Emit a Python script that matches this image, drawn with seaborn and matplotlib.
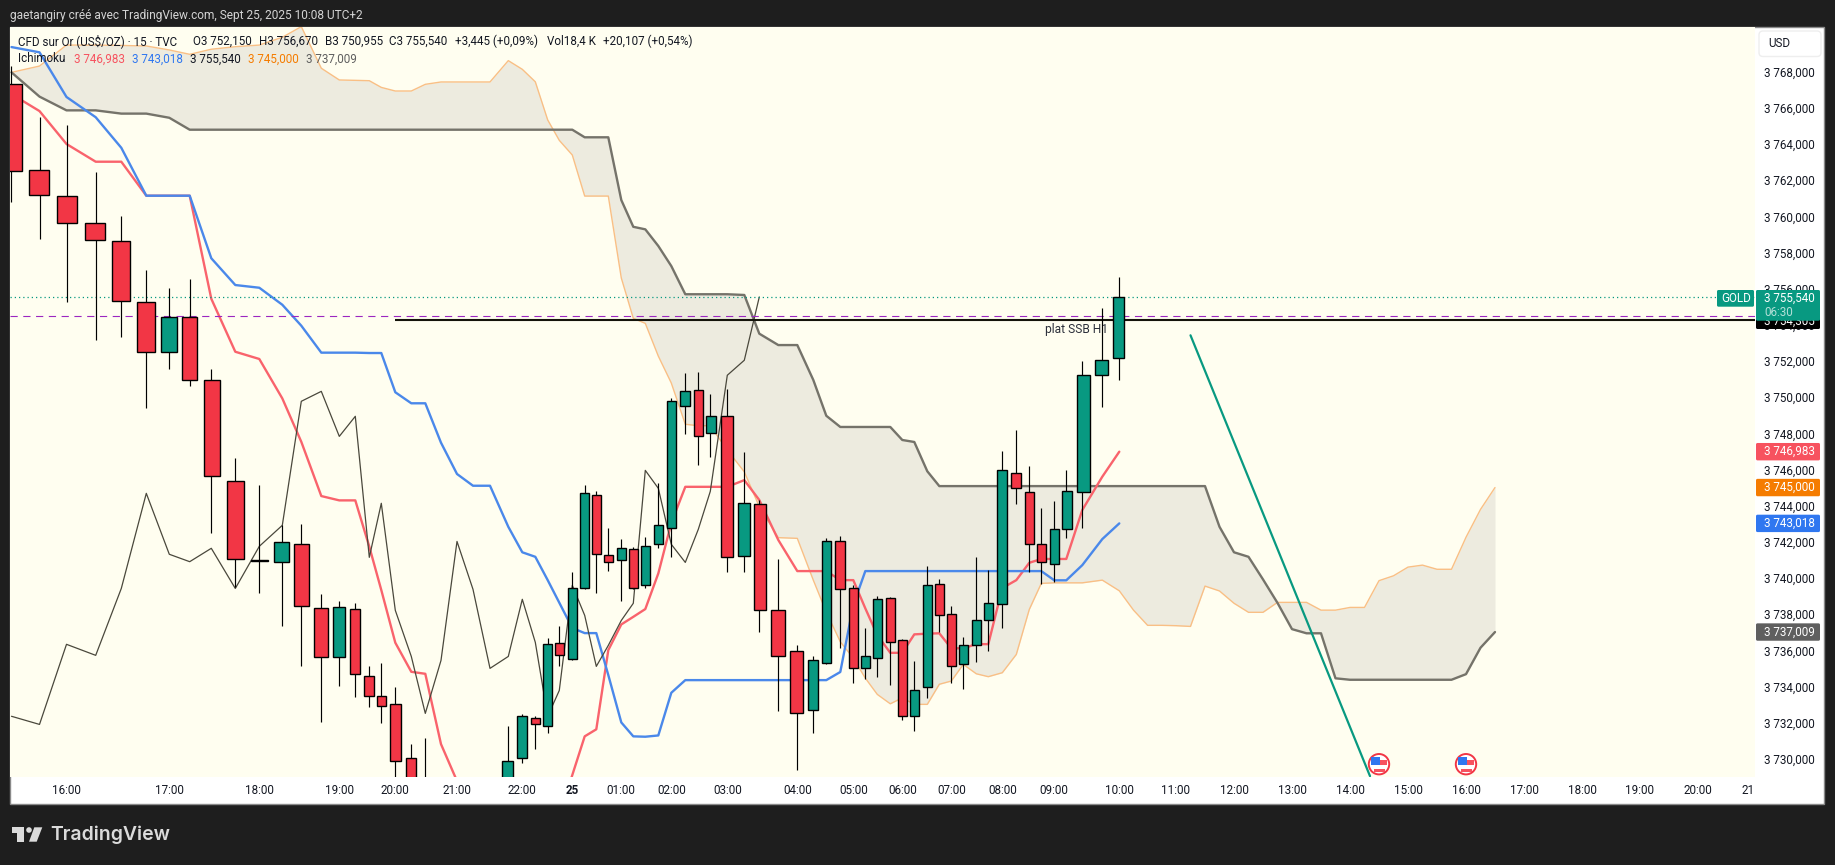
import numpy as np
import pandas as pd
import matplotlib
matplotlib.use("Agg")
import matplotlib.pyplot as plt
import seaborn as sns
from matplotlib.patches import Rectangle, Circle, Polygon, FancyBboxPatch
from matplotlib.transforms import IdentityTransform

nan = float("nan")

# ---- data (15-minute bars, prices in USD) ----
opens = [3767.30,3762.54,3761.11,3759.61,3758.62,3755.24,3752.48,3754.41,3750.93,3745.34,3740.93,3740.90,3741.86,3738.32,3735.64,3738.26,3734.56,3733.45,3733.01,3730.02,3728.55,nan,nan,nan,nan,3728.27,3730.02,3732.23,3731.79,3736.38,3735.50,3739.42,3744.57,3741.25,3740.97,3741.58,3739.59,3741.86,3742.78,3749.52,3750.38,3748.00,3748.94,3741.19,3744.07,3738.21,3735.94,3732.68,3735.28,3742.02,3739.42,3735.00,3735.55,3738.87,3736.55,3732.35,3733.95,3739.65,3737.99,3735.22,3736.27,3737.65,3738.54,3745.79,3744.73,3741.86,3740.75,3742.69,3744.73,3751.21,3752.15]
highs = [3768.31,3765.49,3765.05,3762.45,3760.02,3757.03,3756.03,3756.53,3751.55,3746.63,3745.14,3742.93,3742.98,3739.11,3738.72,3738.61,3735.13,3735.29,3733.97,3730.81,3731.14,nan,nan,nan,nan,3731.81,3732.46,3732.36,3736.68,3737.34,3740.33,3745.14,3744.81,3742.74,3742.15,3741.71,3742.26,3745.25,3749.95,3751.33,3751.39,3750.17,3750.45,3746.96,3744.31,3741.03,3736.27,3735.68,3742.19,3742.32,3739.61,3737.23,3738.98,3738.94,3736.60,3735.40,3740.64,3739.94,3738.45,3736.71,3741.16,3740.44,3747.02,3748.18,3746.19,3743.87,3744.25,3745.97,3752.00,3754.93,3756.67]
lows = [3760.81,3758.76,3755.28,3753.16,3753.34,3749.41,3751.57,3750.63,3742.50,3739.48,3739.18,3737.36,3735.13,3732.05,3734.02,3733.43,3732.88,3731.99,3728.27,3727.16,3727.20,nan,nan,nan,nan,3727.90,3729.75,3730.55,3731.44,3735.14,3735.46,3739.37,3739.18,3740.40,3738.74,3739.38,3739.46,3741.67,3741.17,3747.98,3746.26,3746.70,3740.34,3740.34,3737.02,3732.65,3729.36,3731.44,3735.24,3736.14,3734.20,3734.39,3734.54,3734.09,3732.14,3731.55,3733.37,3737.02,3734.20,3733.87,3735.37,3735.97,3737.25,3744.10,3740.34,3739.65,3739.79,3742.22,3742.78,3749.47,3750.955]
closes = [3762.49,3761.16,3759.61,3758.67,3755.30,3752.48,3754.41,3750.93,3745.62,3741.03,3740.93,3741.97,3738.43,3735.64,3738.37,3734.67,3733.45,3732.93,3729.86,3727.72,3727.70,nan,nan,nan,nan,3729.86,3732.35,3731.90,3736.33,3735.72,3739.42,3744.68,3741.31,3740.90,3741.64,3739.42,3741.75,3742.91,3749.77,3750.32,3747.83,3748.94,3741.14,3744.13,3738.21,3735.66,3732.51,3735.44,3742.02,3739.37,3735.00,3735.66,3738.82,3736.44,3732.35,3733.78,3739.59,3737.93,3735.11,3736.27,3737.65,3738.60,3745.95,3744.96,3741.86,3740.86,3742.69,3744.79,3751.21,3752.04,3755.54]

tenkan = [3766.76,3765.82,3764.00,3763.02,3763.02,3761.14,3761.14,3761.14,3755.44,3752.51,3752.11,3749.93,3747.53,3744.53,3744.29,3744.29,3741.73,3739.33,3736.42,3734.81,3734.70,3730.81,3728.77,nan,nan,nan,nan,nan,nan,3726.89,3729.10,3731.24,3731.63,3736.01,3737.43,3737.85,3738.28,3740.25,3743.04,3745.04,3745.04,3745.04,3745.04,3745.41,3744.31,3742.10,3740.38,3740.38,3740.38,3739.88,3739.88,3738.32,3736.84,3735.86,3735.86,3736.88,3736.92,3736.94,3736.11,3736.11,3736.34,3736.34,3739.44,3739.88,3740.84,3741.05,3741.05,3741.05,3743.76,3745.60,3746.983]
kijun = [3769.36,3769.07,3766.60,3765.48,3763.79,3761.14,3761.14,3761.14,3757.68,3756.20,3756.05,3755.11,3753.95,3752.46,3752.46,3752.46,3752.44,3752.44,3750.27,3749.66,3749.66,3747.48,3745.75,3745.10,3745.10,3742.83,3741.42,3741.17,3739.88,3738.63,3737.23,3736.95,3736.95,3734.63,3732.01,3731.24,3731.22,3731.29,3733.65,3734.35,3734.35,3734.35,3734.35,3734.35,3734.35,3734.35,3734.35,3734.35,3734.35,3734.80,3738.50,3740.38,3740.38,3740.38,3740.38,3740.38,3740.38,3740.38,3740.38,3740.38,3740.38,3740.38,3740.38,3740.38,3740.38,3740.38,3739.87,3739.87,3740.71,3742.15,3743.018]
span_a = [3767.96,3768.31,3769.47,3769.47,3769.45,3769.42,3769.20,3768.96,3769.24,3769.38,3769.47,3769.90,3770.49,3768.19,3767.54,3767.52,3767.50,3767.13,3766.93,3766.93,3767.30,3767.43,3767.43,3767.43,3767.43,3768.61,3768.13,3767.44,3765.33,3764.20,3763.39,3761.12,3761.12,3761.12,3756.59,3754.36,3754.08,3752.27,3750.78,3748.50,3748.42,3748.42,3747.07,3745.87,3743.94,3742.23,3742.19,3739.88,3738.11,3736.47,3735.57,3734.46,3733.56,3733.04,3733.37,3733.01,3733.01,3734.12,3734.30,3735.22,3734.70,3734.54,3734.76,3735.77,3738.26,3739.70,3739.73,3739.73,3739.73,3739.88,3739.29,3738.22,3737.38,3737.38,3737.36,3737.32,3739.55,3739.28,3738.60,3738.10,3738.10,3738.65,3738.65,3738.65,3738.22,3738.22,3738.37,3738.37,3739.85,3740.12,3740.60,3740.71,3740.48,3740.48,3742.25,3743.79,3745.00]
span_b = [3767.96,3766.62,3765.86,3765.86,3765.68,3765.68,3765.45,3764.79,3764.79,3764.79,3764.79,3764.79,3764.79,3764.79,3764.79,3764.79,3764.79,3764.79,3764.79,3764.79,3764.79,3764.79,3764.79,3764.79,3764.79,3764.79,3764.79,3764.79,3764.79,3764.79,3764.79,3764.37,3764.37,3764.37,3760.90,3759.42,3759.28,3758.36,3757.25,3755.69,3755.69,3755.69,3755.69,3755.65,3753.51,3752.88,3752.88,3750.95,3748.97,3748.35,3748.35,3748.35,3748.35,3748.35,3747.63,3747.52,3745.90,3745.08,3745.08,3745.08,3745.08,3745.08,3745.08,3745.08,3745.08,3745.08,3745.08,3745.08,3745.08,3745.08,3745.08,3745.08,3745.08,3745.08,3745.08,3745.08,3745.08,3742.83,3741.42,3741.17,3739.92,3738.62,3737.17,3736.94,3736.94,3734.45,3734.37,3734.37,3734.37,3734.37,3734.37,3734.37,3734.37,3734.37,3734.68,3736.14,3737.009]

last_close = 3755.54
purple_level = 3754.47
ssb_level = 3754.27
trend_slots = [75.0, 87.38]
trend_prices = [3753.42, 3729.04]
event_slots = [88.0, 94.0]
event_price = 3729.7

price_ticks = list(range(3730, 3770, 2))
time_tick_slots = [2,6,10,14,18,22,26,30,34,38,42,46,50,54,58,62,66,70,74,78,82,86,90,94,98,102,106,110]
time_tick_labels = ["16:00","17:00","18:00","19:00","20:00","21:00","22:00","25","01:00","02:00","03:00","04:00","05:00","06:00","07:00","08:00","09:00","10:00","11:00","12:00","13:00","14:00","15:00","16:00","17:00","18:00","19:00","20:00"]

# the chart's compressed time axis: where each bar slot falls on the canvas
scale_slots = list(range(-2, 71)) + [71,72,73,74,75,76,77,78,82,86,90,94,98,102,106,110,114,120]
scale_px = [-44,-16,11.5,39.5,66.5,95.7,121.3,146.3,169.3,189.7,211.3,235.3,259.3,282.3,301.3,321.3,339.3,355.3,369.3,381.3,395.3,411.3,425.3,441,457,473,490,508.3,522.3,535.3,547.7,559.3,572.3,584.7,596.3,608.3,621.3,633.3,645.3,658.3,671.3,685.3,698.3,710.3,727.3,744.3,759.3,778.3,797.3,813.3,826.3,840.3,853.3,865.3,877.3,890.3,902.3,914.3,927.3,939.3,951.3,963.3,976.3,988.3,1002.3,1016.3,1029.3,1041.3,1054.3,1066.3,1082.3,1102.3,1119.3,1133.5,1147.6,1161.8,1176,1190.5,1205,1219.5,1234,1292,1350,1408,1466,1524,1582,1640,1698,1756,1843]

W, H = 1835, 865
L, R, T, B = 10, 1755, 27, 776.5
BG = "#1e1e1e"
PLOT = "#fffef0"
RED = "#f23645"
GREEN = "#089981"
INK = "#131722"
FONT = ["Roboto", "DejaVu Sans"]
FS = 8.35

sns.set_theme(style="white")
plt.rcParams["font.family"] = FONT
plt.rcParams["text.parse_math"] = False

fig = plt.figure(figsize=(W / 100, H / 100), dpi=100, facecolor=BG)
ax = fig.add_axes([L / W, 1 - B / H, (R - L) / W, (B - T) / H], facecolor=PLOT)


def to_px(t):
    t = np.asarray(t, dtype=float)
    return np.interp(t.ravel(), scale_slots, scale_px).reshape(t.shape)


def to_slot(p):
    p = np.asarray(p, dtype=float)
    return np.interp(p.ravel(), scale_px, scale_slots).reshape(p.shape)


ax.set_xscale("function", functions=(to_px, to_slot))
ax.set_xlim(float(to_slot(L)), float(to_slot(R)))
ax.set_ylim(3729.02, 3770.47)

bars = np.arange(len(opens))
cloud_slots = np.arange(len(span_a))

# cloud
ax.fill_between(cloud_slots, span_a, span_b, color="#edebdf", lw=0, zorder=1)
sns.lineplot(x=cloud_slots, y=span_a, ax=ax, color="#f9bf85", lw=1.0, estimator=None, sort=False, zorder=2)
sns.lineplot(x=cloud_slots, y=span_b, ax=ax, color="#75736a", lw=1.7, estimator=None, sort=False, zorder=2)
# ichimoku lines
sns.lineplot(x=bars, y=tenkan, ax=ax, color="#f9636c", lw=1.7, estimator=None, sort=False, zorder=3)
sns.lineplot(x=bars, y=kijun, ax=ax, color="#4a88ea", lw=1.7, estimator=None, sort=False, zorder=3)
sns.lineplot(x=bars[:45], y=closes[26:], ax=ax, color="#4a483c", lw=0.9, estimator=None, sort=False, zorder=3)

# drawings sit under the candles
ax.axhline(last_close, color=GREEN, lw=0.9, ls=(0, (1, 2.4)), zorder=3.5)
ax.axhline(purple_level, color="#9c27c0", lw=0.8, ls=(0, (6.5, 5)), zorder=3.5)
ax.hlines(ssb_level, 18, 114, color="#14130a", lw=1.5, zorder=3.5)
sns.lineplot(x=trend_slots, y=trend_prices, ax=ax, color=GREEN, lw=1.6, estimator=None, sort=False, zorder=3.5)

# candles
o = np.array(opens); c = np.array(closes); hi = np.array(highs); lo = np.array(lows)
up = c >= o
colors = [GREEN if u else RED for u in up]
ax.vlines(bars, lo, hi, color="black", lw=0.85, zorder=4)
ax.bar(bars, np.maximum(np.abs(c - o), 0.07), bottom=np.minimum(o, c), width=0.72,
       color=colors, edgecolor="black", linewidth=1.0, zorder=5)

ax.text(float(to_slot(1045)), ssb_level - 0.55, "plat SSB H1", color="#2a2e39", fontsize=FS + 0.3,
        va="center", ha="left", zorder=3.8)

# axes
for s in ax.spines.values():
    s.set_visible(False)
ax.yaxis.tick_right()
ax.set_yticks(price_ticks)
ax.set_yticklabels([f"3 {p - 3000:d},000" for p in price_ticks], fontsize=FS, color=INK)
ax.tick_params(axis="y", length=0, pad=6.3)
ax.set_xticks(time_tick_slots)
ax.set_xticklabels(time_tick_labels, fontsize=FS, color=INK)
ax.xaxis.set_minor_locator(matplotlib.ticker.NullLocator())
ax.tick_params(axis="x", length=0, pad=5.5)
for lab in ax.get_xticklabels():
    if lab.get_text() == "25":
        lab.set_fontweight("bold")
ax.set_xlabel(""); ax.set_ylabel("")
ax.grid(False)

fig.canvas.draw()
ident = IdentityTransform()


def Y(py):
    return H - py


def price_px(p):
    return ax.transData.transform((0, p))[1]


def box(x0, x1, ytop, ybot, color, z=5, ec="none", lw=0, radius=1.5):
    fig.add_artist(FancyBboxPatch((x0 + radius, Y(ybot) + radius), x1 - x0 - 2 * radius, ybot - ytop - 2 * radius,
                                  boxstyle=f"round,pad={radius},rounding_size={radius}",
                                  fc=color, ec=ec, lw=lw, transform=ident, zorder=z))


def label(x, py, s, color=INK, fs=FS, ha="left", weight="normal", z=6, family=FONT):
    fig.text(x / W, 1 - py / H, s, color=color, fontsize=fs, ha=ha, va="center", fontweight=weight, zorder=z, family=family)


# white panel behind the chart and its scales
fig.add_artist(Rectangle((L, Y(804)), 1824 - L, 804 - T, fc="white", ec="#8a8a8a", lw=1, transform=ident, zorder=-1))
ax.set_zorder(0)

# header
label(10, 15, "gaetangiry créé avec TradingView.com, Sept 25, 2025 10:08 UTC+2", color="#d4d4d4", fs=8.6)

# legend rows
for x, s in [(18, "CFD sur Or (US$/OZ) · 15 · TVC"), (193, "O3 752,150"), (258.5, "H3 756,670"), (325, "B3 750,955"),
             (389, "C3 755,540"), (455, "+3,445 (+0,09%)"), (547, "Vol18,4 K"), (603, "+20,107 (+0,54%)")]:
    label(x, 41.5, s, fs=8.35)
for x, s, col in [(18, "Ichimoku", INK), (73.5, "3 746,983", "#f7525f"), (131.8, "3 743,018", "#2f77f0"),
                  (190, "3 755,540", INK), (248, "3 745,000", "#f57c00"), (306, "3 737,009", "#5f5f5f")]:
    label(x, 59, s, color=col, fs=8.35)

# USD button
box(1759, 1821, 31, 56.5, "white", ec="#eeeeee", lw=1, radius=4)
label(1768, 43.5, "USD", fs=FS)

# clipped last time label
label(1741, 790.5, "21", fs=FS)

# price tags on the scale
box(1756, 1820, 300, 329, "black", z=4)
label(1764, 321.5, "3 754,305", color="white", fs=FS, z=4.5)
box(1756, 1820, 290, 320.7, GREEN, z=5)
label(1764, 298, "3 755,540", color="white", fs=FS, z=6)
label(1764, 312, "06:30", color="#b5e0d8", fs=FS, z=6)
box(1717, 1754, 290, 306.7, GREEN, z=5)
label(1721, 298.5, "GOLD", color="white", fs=FS, z=6)
for p, s, col in [(3746.983, "3 746,983", "#f7525f"), (3745.0, "3 745,000", "#f57c00"),
                  (3743.018, "3 743,018", "#2f77f0"), (3737.009, "3 737,009", "#5f5f5f")]:
    py = H - price_px(p)
    box(1756, 1820, py - 8.7, py + 8.7, col, z=5)
    label(1764, py, s, color="white", fs=FS, z=6)

# event flags
for s in event_slots:
    cx, cy = ax.transData.transform((s, event_price))
    fig.add_artist(Circle((cx, cy), 10.2, fc="white", ec="#f23645", lw=1.4, transform=ident, zorder=5))
    fig.add_artist(Rectangle((cx - 8, cy - 1), 16, 5, fc="#f7525f", ec="none", transform=ident, zorder=5.1))
    fig.add_artist(Rectangle((cx - 5.5, cy - 7.5), 11, 3, fc="#f7525f", ec="none", transform=ident, zorder=5.1))
    fig.add_artist(Rectangle((cx - 8, cy - 1), 9, 8, fc="#2f77f0", ec="none", transform=ident, zorder=5.2))

# brand
logo = "#dbdbdb"
fig.add_artist(Polygon([(11.7, Y(827.3)), (24.3, Y(827.3)), (24.3, Y(841.7)), (17, Y(841.7)), (17, Y(833)), (11.7, Y(833))],
                       fc=logo, ec="none", transform=ident))
fig.add_artist(Circle((29, Y(830)), 2.8, fc=logo, ec="none", transform=ident))
fig.add_artist(Polygon([(34.3, Y(827.3)), (42.3, Y(827.3)), (36.7, Y(841.7)), (29, Y(841.7))], fc=logo, ec="none", transform=ident))
label(50, 835, "TradingView", color=logo, fs=14, weight="semibold", family=["Inter", "DejaVu Sans"])

fig.savefig("out.png", dpi=100, facecolor=BG)
